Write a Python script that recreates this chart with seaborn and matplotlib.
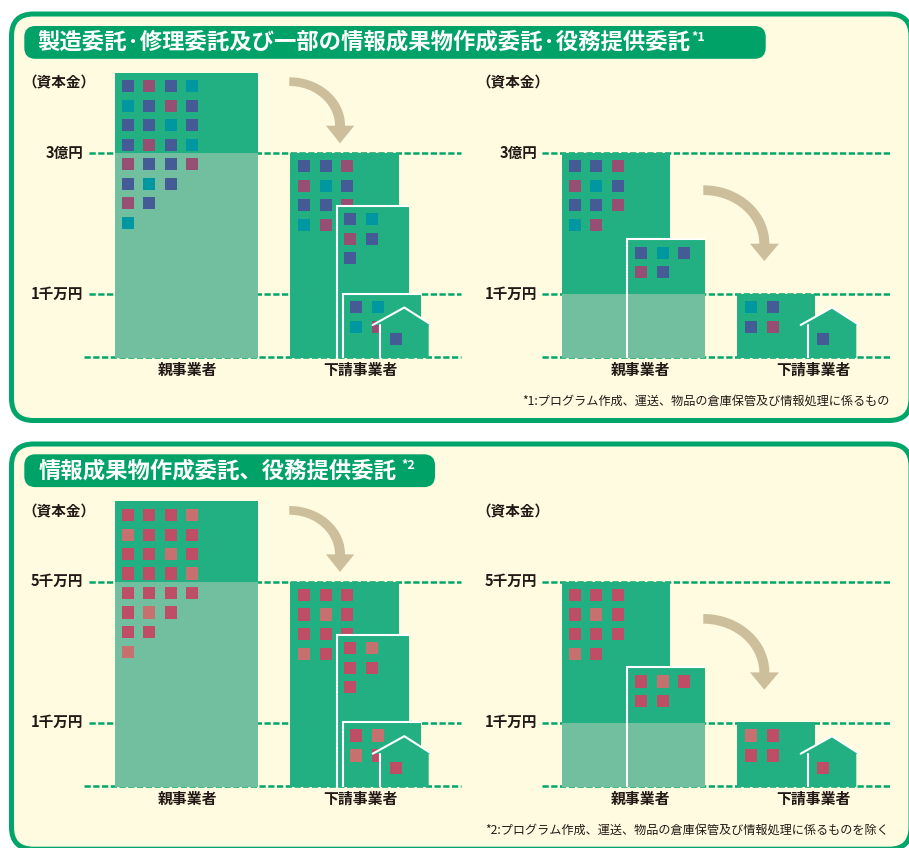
import numpy as np
import pandas as pd
import matplotlib
matplotlib.use("Agg")
import matplotlib.pyplot as plt
from matplotlib.patches import FancyBboxPatch, Polygon
from matplotlib.transforms import ScaledTranslation
import seaborn as sns

sns.set_theme(style="white")
plt.rcParams['font.family'] = ['Noto Sans CJK JP', 'DejaVu Sans']

# ---- text ----
titles = ["製造委託·修理委託及び一部の情報成果物作成委託·役務提供委託", "情報成果物作成委託、役務提供委託"]
title_marks = ["*1", "*2"]
footnotes = ["*1:プログラム作成、運送、物品の倉庫保管及び情報処理に係るもの",
             "*2:プログラム作成、運送、物品の倉庫保管及び情報処理に係るものを除く"]
upper_labels = ["3億円", "5千万円"]
lower_label = "1千万円"
axis_title = "（資本金）"
groups = ["親事業者", "下請事業者"]

# ---- levels, height above the base of the chart ----
lower_level = 63
upper_level = 204
parent_top = 284.5
second_top = 151
third_top = 63.5
small_top = 118.5

# ---- left panel buildings ----
left_names = ["parent", "parent_low", "mid1", "mid2", "mid3"]
left_x0 = [114.7, 114.7, 290.3, 337.3, 343.3]
left_x1 = [258, 258, 399, 409.3, 420.7]
left_h = [parent_top, upper_level, upper_level, second_top, third_top]

# ---- right panel buildings ----
right_names = ["big", "big_low", "small", "small_low", "child"]
right_x0 = [561.7, 561.7, 627.3, 627.3, 737.3]
right_x1 = [670.3, 670.3, 705, 705, 815.3]
right_h = [upper_level, lower_level, small_top, lower_level, third_top]

# ---- window grids ----
parent_cols = [128, 149.3, 170.7, 192]
parent_rows = [270.7, 251, 231.7, 212.3, 192.7, 173.3, 153.7, 134]
mid1_cols = [304, 325.7, 347]
mid1_rows = [190.7, 171.3, 151.7, 132]
mid2_cols = [350.3, 371.7]
mid2_rows = [137.7, 118, 98.7]
mid3_cols = [356.3, 377.7]
mid3_rows = [50.3, 30.3]
big_cols = [575, 596.3, 617.7]
small_cols = [641, 662.7, 684]
small_rows = [104.3, 85]
child_cols = [751, 772.7]

# B blue, T teal, P purple, R red, L light red
parent_win = [["BPBT", "TBPB", "BBTB", "BPBT", "PBBP", "BTB", "PB", "T"],
              ["RRRL", "LRRR", "RRLR", "RRRL", "RRRR", "RLR", "RR", "L"]]
mid1_win = [["BBP", "PTB", "BBP", "TP"], ["RRR", "RLR", "RRR", "LR"]]
mid2_win = [["BT", "PB", "B"], ["RL", "RR", "R"]]
mid3_win = [["BT", "TP"], ["RL", "LR"]]
big_win = [["BBP", "PTB", "BBP", "TP"], ["RRR", "RLR", "RRR", "LR"]]
small_win = [["BTB", "PB"], ["RLR", "RR"]]
child_win = [["TB", "BP"], ["LR", "RR"]]
house_win = ["B", "R"]

# ---- houses: body left, body right, eave left, eave right, peak x ----
left_house = [380.3, 428.7, 372.7, 431.7, 404.3]
right_house = [808, 856.3, 800.7, 859.3, 832]
house_eave = 32
house_peak = 49.5
left_house_win = (395.7, 17.7)
right_house_win = (823.3, 17.7)

# ---- colours ----
green = "#00A56A"
pill = "#00A268"
bldg = "#22B083"
bldg_light = "#71BF9F"
cream = "#FEFBE0"
arrow_col = "#CDBF9C"
ink = "#231815"
win_pal = {"B": "#455B96", "T": "#0097A0", "P": "#964F72", "R": "#BE4D66", "L": "#C77070"}

section_shift = [0, 428.7]
W, H = 909, 848
foot = 1.2  # bars run a little below the base dashes

fig = plt.figure(figsize=(W / 100, H / 100), dpi=100, facecolor="white")
bg = fig.add_axes([0, 0, 1, 1])
bg.set_xlim(0, W)
bg.set_ylim(H, 0)
bg.axis("off")


def draw_arrow(x0, top_o, top_i, base, right_o, right_i, head0, head1, tip):
    t = np.linspace(np.pi / 2, 0, 40)
    outer = np.c_[x0 + (right_o - x0) * np.cos(t), base - (base - top_o) * np.sin(t)]
    inner = np.c_[x0 + (right_i - x0) * np.cos(t), base - (base - top_i) * np.sin(t)]
    head = np.array([[head1, base], tip, [head0, base]])
    bg.add_patch(Polygon(np.r_[outer, head, inner[::-1]], closed=True, fc=arrow_col, ec="none"))


def draw_windows(ax, cols, rows, codes, z):
    xs, ys, cs = [], [], []
    for r, row in enumerate(codes):
        for c, code in enumerate(row):
            xs.append(cols[c])
            ys.append(rows[r])
            cs.append(code)
    df = pd.DataFrame({"x": xs, "y": ys, "kind": cs})
    sns.scatterplot(data=df, x="x", y="y", hue="kind", palette=win_pal, marker="s", s=78,
                    linewidth=0, legend=False, ax=ax, zorder=z)


def draw_bars(ax, names, x0, x1, heights, colours, layers):
    df = pd.DataFrame({"name": names, "h": heights})
    sns.barplot(data=df, x="name", y="h", hue="name", palette=dict(zip(names, colours)),
                dodge=False, legend=False, linewidth=0, saturation=1, ax=ax)
    bars = [p for cont in ax.containers for p in cont]
    for p, a, b, h, z in zip(bars, x0, x1, heights, layers):
        p.set_x(a)
        p.set_width(b - a)
        p.set_y(-foot)
        p.set_height(h + foot)
        p.set_zorder(z)


def white_edge(ax, x0, x1, top, z):
    ax.plot([x0, x0, x1], [-foot, top, top], color="white", lw=1.5, zorder=z,
            solid_joinstyle="miter", solid_capstyle="butt")


def draw_house(ax, spec, win, code, z):
    b0, b1, e0, e1, peak = spec
    ax.fill([b0, b0, e0, peak, e1, b1, b1], [-foot, house_eave, house_eave, house_peak, house_eave, house_eave, -foot],
            color=bldg, lw=0, zorder=z)
    ax.plot([b0, b0], [-foot, house_eave], color="white", lw=1.5, zorder=z + 0.1)
    ax.plot([e0, peak, e1], [house_eave, house_peak, house_eave], color="white", lw=1.5, zorder=z + 0.1)
    draw_windows(ax, [win[0]], [win[1]], [code], z + 0.2)


def setup_panel(ax, x_lim, top_label, x_ticks, label_x, dash_starts, pad):
    ax.set_xlim(*x_lim)
    ax.set_ylim(-foot, 290)
    ax.set_xlabel("")
    ax.set_ylabel("")
    ax.patch.set_visible(False)
    sns.despine(ax=ax, left=True, bottom=True, right=True, top=True)
    ax.set_yticks([lower_level, upper_level])
    ax.set_yticklabels([lower_label, top_label], fontsize=10.5, fontweight="bold", color=ink)
    ax.set_xticks(x_ticks)
    ax.set_xticklabels(groups, fontsize=10.7, fontweight="bold", color=ink)
    ax.tick_params(axis="x", length=0, pad=2.9)
    ax.tick_params(axis="y", length=0, pad=pad)
    up = ScaledTranslation(0, 1.3 / 72, fig.dpi_scale_trans)
    for lab in ax.get_yticklabels():
        lab.set_transform(lab.get_transform() + up)
    ax.text(label_x, 274.5, axis_title, ha="center", va="center", fontsize=10.5, fontweight="bold", color=ink)
    for lvl, start in zip([0, lower_level, upper_level], dash_starts):
        ax.hlines(lvl, start, x_lim[1], color=green, lw=1.8, linestyles=(0, (2.5, 1.0)), zorder=1, clip_on=False)


for s, dy in enumerate(section_shift):
    # frame and title pill
    top = 14 + dy + (1.3 if s else 0)
    bottom = 420.5 + dy
    bg.add_patch(FancyBboxPatch((11.5, top), 899.5, bottom - top, boxstyle="round,pad=0,rounding_size=22",
                                fc=cream, ec=green, lw=3.6, zorder=1))
    pill_x1 = 765.7 if s == 0 else 435
    pill_y0 = 26 if s == 0 else 454.3
    bg.add_patch(FancyBboxPatch((24.3, pill_y0), pill_x1 - 24.3, 32.8, boxstyle="round,pad=0,rounding_size=11",
                                fc=pill, ec="none", zorder=2))
    bg.text(37.5 if s == 0 else 38.5, pill_y0 + 16.4, titles[s], color="white", fontsize=16.1, fontweight="bold",
            ha="left", va="center", zorder=3)
    bg.text(691 if s == 0 else 401.5, pill_y0 + 11.5, title_marks[s], color="white", fontsize=9, fontweight="bold",
            ha="left", va="center", zorder=3)
    bg.text(890 if s == 0 else 888.5, 401 if s == 0 else 830, footnotes[s], color=ink, fontsize=8.75,
            ha="right", va="center", zorder=3)

    draw_arrow(289.3, 77.3 + dy, 86 + dy, 125.7 + dy, 345, 335, 326, 354.3, (340, 143.3 + dy))
    draw_arrow(703.3, 185.3 + dy, 195 + dy, 243.7 + dy, 769.3, 759.3, 750, 779, (764.3, 261 + dy))

    # left panel
    ax = fig.add_axes([84 / W, 1 - (357 + foot + dy) / H, (461 - 84) / W, (290 + foot) / H])
    draw_bars(ax, left_names, left_x0, left_x1, left_h,
              [bldg, bldg_light, bldg, bldg, bldg], [2, 2.1, 3, 4, 5])
    draw_windows(ax, parent_cols, parent_rows, parent_win[s], 2.5)
    draw_windows(ax, mid1_cols, mid1_rows, mid1_win[s], 3.5)
    draw_windows(ax, mid2_cols, mid2_rows, mid2_win[s], 4.5)
    white_edge(ax, left_x0[3], left_x1[3], second_top, 4.6)
    draw_windows(ax, mid3_cols, mid3_rows, mid3_win[s], 5.5)
    white_edge(ax, left_x0[4], left_x1[4], third_top, 5.6)
    draw_house(ax, left_house, left_house_win, house_win[s], 6)
    setup_panel(ax, (84, 461), upper_labels[s], [187, 360], 59, [84, 89, 89], 0.6)

    # right panel
    ax = fig.add_axes([542 / W, 1 - (357 + foot + dy) / H, (892 - 542) / W, (290 + foot) / H])
    draw_bars(ax, right_names, right_x0, right_x1, right_h,
              [bldg, bldg_light, bldg, bldg_light, bldg], [2, 2.1, 3, 3.1, 4])
    draw_windows(ax, big_cols, mid1_rows, big_win[s], 2.5)
    draw_windows(ax, small_cols, small_rows, small_win[s], 3.5)
    white_edge(ax, right_x0[2], right_x1[2], small_top, 3.6)
    draw_windows(ax, child_cols, mid3_rows, child_win[s], 4.5)
    draw_house(ax, right_house, right_house_win, house_win[s], 5)
    setup_panel(ax, (542, 892), upper_labels[s], [640.3, 813.3], 512.5, [542, 542, 542], 3.5)

fig.savefig("out.png", dpi=100, facecolor="white")
